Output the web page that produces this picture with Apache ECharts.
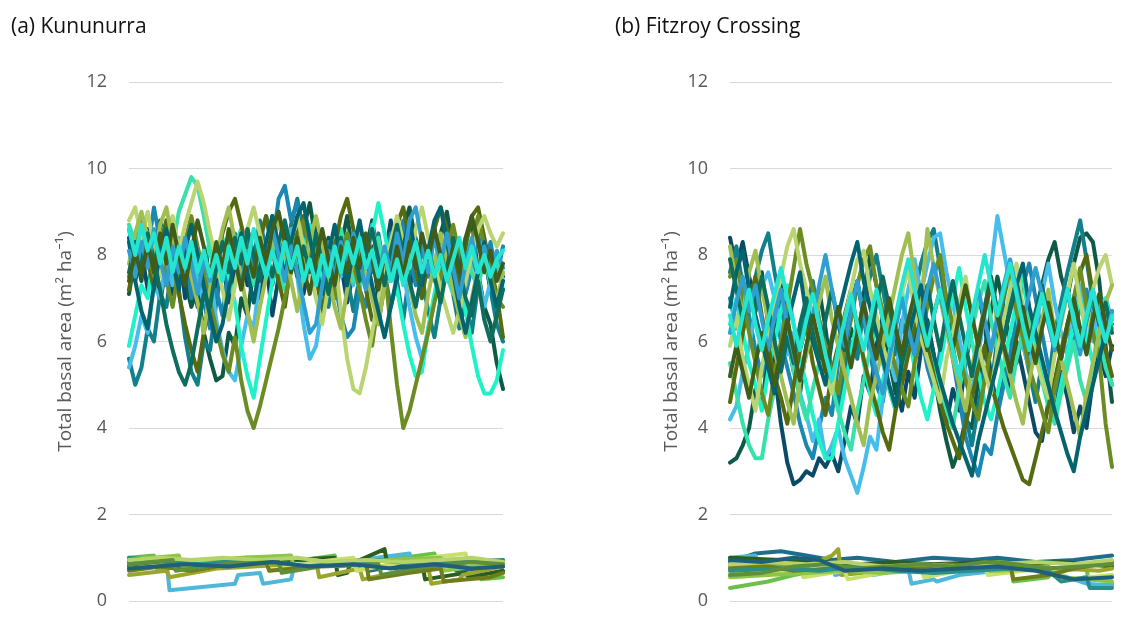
<!DOCTYPE html>
<html>
<head>
<meta charset="utf-8">
<script src="https://cdn.jsdelivr.net/npm/echarts@6/dist/echarts.min.js"></script>
<style>
  html, body { margin: 0; padding: 0; background: #ffffff; }
  #chart { width: 1129px; height: 618px; }
</style>
</head>
<body>
<div id="chart"></div>
<script>
// Total basal area of simulated stands, one line per run (x = time step 0..60)
const panelTitles = ['(a) Kununurra', '(b) Fitzroy Crossing'];
const yTicks = { min: 0, max: 12, interval: 2 };
const yAxisName = 'Total basal area (m\u00B2 ha\u207B\u00B9)';

// Kununurra – trees (upper band)
const kunA1  = [8.4,7.4,8.1,7.2,8.0,6.9,7.8,7.1,8.2,7.0,7.7,6.8,7.5,8.3,7.2,7.9,6.9,7.6,8.4,7.3,8.1,7.0,7.8,6.6,7.5,8.6,7.7,8.4,7.1,7.9,8.7,7.6,8.3,7.0,7.8,6.9,7.6,8.5,7.4,8.2,7.0,7.9,8.8,7.6,8.4,7.2,8.0,7.1,7.9,8.6,7.5,8.3,7.2,8.1,7.3,8.2,7.4,8.0,7.2,7.8,7.5];
const kunA2  = [7.1,8.0,7.4,8.6,7.9,8.8,8.0,7.3,8.2,7.4,6.8,7.2,6.2,5.6,5.1,5.2,6.2,5.9,7.0,6.6,7.7,8.5,7.8,8.9,8.1,7.5,8.4,7.7,8.6,9.2,8.3,7.6,8.4,7.5,8.2,8.9,8.0,7.3,8.1,8.8,7.9,7.2,8.0,7.4,8.6,9.1,8.3,7.5,8.2,7.4,8.5,9.0,8.1,7.3,8.3,8.8,7.6,6.8,6.4,5.5,4.9];
const kunA3  = [5.6,5.0,5.4,6.3,6.0,7.1,6.8,7.9,7.2,6.1,5.3,5.0,6.0,5.8,6.9,7.8,7.2,8.3,7.6,8.6,7.9,8.8,8.1,7.3,8.2,7.6,8.7,9.3,8.5,7.7,8.4,7.4,6.8,7.7,8.4,7.5,6.7,7.5,8.3,7.6,8.5,7.6,6.8,7.4,6.5,7.6,8.4,7.5,6.7,6.1,7.0,7.8,7.1,6.3,6.9,6.2,7.3,8.0,7.2,6.4,6.0];
const kunA4  = [8.6,7.9,8.8,8.1,9.1,8.3,7.6,8.4,7.5,8.2,7.0,7.8,6.9,6.3,7.2,6.6,7.7,8.5,7.8,8.6,7.6,8.3,8.9,8.2,9.3,9.6,8.8,9.2,8.3,7.6,8.4,7.5,8.3,7.4,6.6,6.1,6.3,7.2,6.8,7.9,8.4,7.6,8.5,7.8,8.8,8.0,7.3,8.2,7.5,8.6,7.8,8.4,7.4,8.1,7.1,7.7,8.5,7.6,8.3,7.5,8.2];
const kunA5  = [5.4,5.9,6.6,6.2,7.3,7.0,7.9,7.3,8.4,7.6,8.2,7.4,6.9,7.6,6.5,5.8,5.3,5.1,5.9,6.6,6.3,7.5,8.1,7.4,8.3,7.7,8.6,7.5,6.4,5.6,5.9,6.8,7.6,8.3,7.5,8.1,7.3,8.2,7.5,8.7,7.9,7.2,8.0,8.5,7.6,6.8,6.1,5.6,6.3,7.0,7.8,8.4,7.6,8.3,7.3,8.2,7.5,6.8,7.4,7.9,7.2];
const kunA6  = [5.9,6.6,7.3,7.0,8.1,7.6,8.4,7.8,7.4,8.2,8.7,8.0,7.6,8.4,7.8,8.3,7.5,6.9,5.9,5.2,4.7,5.6,6.5,7.4,8.2,7.7,8.4,7.6,8.1,8.7,8.0,7.4,8.1,7.3,8.0,8.5,7.7,7.2,7.9,8.5,9.2,8.5,7.8,7.2,6.4,5.7,5.2,5.3,6.3,7.1,7.8,8.3,7.8,7.4,6.7,5.9,5.2,4.8,4.8,5.1,5.8];
const kunA7  = [8.7,8.3,7.6,8.5,7.5,8.3,8.8,8.2,9.0,9.4,9.8,9.6,8.9,8.1,7.5,8.4,7.7,8.2,8.6,7.8,7.3,8.1,7.5,8.3,7.7,7.2,8.0,8.5,7.6,8.2,7.4,8.1,7.3,8.0,8.6,7.9,7.4,8.2,7.4,8.0,8.4,7.6,8.3,7.5,8.1,8.5,7.7,7.2,8.0,7.4,8.2,7.5,7.1,7.9,8.4,7.6,7.2,8.0,7.3,7.9,7.4];
const kunA8  = [7.2,8.0,8.7,7.9,7.2,8.2,8.8,7.9,7.1,6.4,5.8,5.3,6.2,6.9,7.8,8.5,9.0,9.3,8.7,8.1,7.5,8.4,8.9,8.1,7.4,6.8,7.8,8.5,8.9,8.2,7.5,6.7,7.5,8.2,8.9,9.3,8.6,7.9,7.2,6.5,6.4,7.3,8.0,8.7,9.1,8.3,7.7,7.0,7.9,8.6,9.1,8.6,7.9,7.3,8.2,8.9,9.1,8.4,7.7,7.1,6.1];
const kunA9  = [7.5,8.2,8.8,8.1,7.5,8.4,7.4,6.8,7.7,8.3,8.9,8.2,7.6,6.9,6.3,5.7,5.3,6.1,5.1,4.4,4.0,4.5,5.1,5.7,6.3,7.0,7.6,8.2,8.8,8.1,7.5,8.4,7.6,7.0,7.9,8.5,7.8,7.2,6.5,5.9,6.9,7.7,6.3,5.0,4.0,4.4,5.0,5.6,6.2,6.9,7.5,8.1,8.7,8.0,7.4,8.3,8.9,8.2,7.6,7.0,6.8];
const kunA10 = [8.8,9.1,8.4,9.0,8.2,7.5,8.3,8.9,8.1,8.7,9.2,9.7,9.2,8.5,7.9,7.2,6.5,7.3,8.0,8.6,9.1,8.5,7.9,8.8,8.1,7.5,8.3,8.9,8.2,7.6,7.0,6.4,7.3,8.0,6.7,5.6,4.9,4.8,5.4,6.2,7.0,7.7,8.3,8.9,8.3,7.7,8.6,9.1,8.4,7.8,7.2,6.7,6.2,6.7,7.4,8.0,8.6,8.9,8.5,8.2,8.5];
const kunA11 = [7.8,8.5,9.0,8.4,7.8,8.7,9.1,8.3,7.6,8.4,7.5,6.9,6.2,7.2,7.9,8.6,9.1,8.3,7.5,6.7,6.0,6.8,7.5,8.2,8.8,8.1,7.4,6.7,7.6,8.3,8.9,8.2,7.5,6.8,6.3,7.2,7.9,8.5,7.6,7.0,6.4,7.3,8.0,8.6,7.9,7.3,6.6,6.2,7.1,7.8,8.5,7.9,7.2,6.6,6.1,7.0,7.7,8.3,7.4,6.9,7.6];
const kunA12 = [8.3,7.4,6.7,6.3,7.3,8.0,8.6,7.9,7.2,8.1,8.7,8.0,7.3,6.6,6.0,6.4,7.2,7.9,8.5,7.6,6.9,7.7,8.3,8.9,8.2,7.5,8.3,8.9,9.2,8.4,7.7,7.1,8.0,8.7,7.9,7.3,8.1,8.8,8.0,7.3,6.7,6.1,6.8,7.5,8.2,8.8,8.0,7.3,8.1,8.8,9.1,8.3,7.6,6.8,6.2,6.9,7.6,8.3,7.4,6.8,7.4];
const kunA13 = [7.6,8.3,7.7,8.5,7.9,7.2,6.4,5.8,5.3,5.0,5.5,6.3,7.1,6.8,7.7,8.3,7.6,8.4,7.8,8.6,8.0,7.4,8.1,7.5,8.3,8.8,8.1,7.5,8.2,7.6,8.5,7.8,7.1,7.9,8.4,7.6,8.2,7.4,8.0,8.6,7.9,7.3,8.1,8.7,8.0,7.4,6.8,7.6,8.2,7.5,6.9,7.7,8.4,7.7,7.0,6.6,7.4,6.5,6.0,6.6,7.2];
const kunA14 = [8.1,7.5,8.3,7.7,8.6,7.9,7.3,8.2,7.6,8.4,7.8,7.1,7.9,7.4,8.2,7.6,8.5,7.9,7.3,8.1,7.5,8.3,7.7,8.6,8.0,7.4,8.2,7.6,6.9,6.2,6.4,7.3,8.1,7.5,8.3,7.7,8.5,7.9,7.2,8.0,7.4,8.2,7.6,8.5,7.8,8.8,9.1,8.3,7.6,8.4,7.8,8.5,7.7,7.0,7.8,8.4,7.6,8.2,7.5,8.1,7.7];
const kunA15 = [7.4,8.1,7.5,8.3,7.6,8.5,7.8,8.7,8.0,7.3,8.1,8.8,8.2,7.5,8.3,7.7,8.6,7.9,7.2,8.0,7.5,8.4,7.8,8.6,9.0,8.3,7.6,8.4,7.7,7.1,7.9,8.6,7.9,7.3,8.2,7.6,8.4,7.7,8.5,7.9,7.2,8.0,7.4,8.2,7.5,8.3,7.7,8.5,7.9,8.6,8.0,7.4,8.2,7.6,8.4,8.9,8.3,7.6,8.1,7.4,7.8];
const kunA16 = [8.6,8.0,8.7,8.1,8.5,7.8,8.4,7.6,8.2,7.7,8.3,7.6,8.1,7.5,8.0,7.4,8.2,7.7,8.4,7.8,8.6,8.0,7.5,8.1,7.6,8.3,7.7,8.2,7.4,7.9,7.3,8.0,7.5,8.2,7.6,8.3,7.8,8.4,7.7,8.1,7.5,8.0,7.4,7.9,7.3,7.8,8.3,7.6,8.1,7.5,8.0,7.4,7.9,8.4,7.7,8.2,7.6,8.0,7.5,7.9,8.1];

// Kununurra – understorey (lower band), [step, value] break points
const kunL1  = [[0,1.0],[4,1.05],[4.5,0.75],[12,0.9],[20,1.0],[28,0.95],[33,1.05],[33.5,0.8],[44,1.0],[49,1.1],[49.5,0.8],[56,0.85],[56.5,0.5],[60,0.55]];
const kunL2  = [[0,0.9],[5,1.0],[5.5,0.75],[15,0.95],[20,0.85],[26,0.95],[34,0.9],[38,0.95],[38.5,0.7],[46,0.9],[52,0.95],[52.5,0.7],[60,0.8]];
const kunL3  = [[0,0.85],[6,0.95],[6.5,0.25],[17,0.4],[17.5,0.6],[21,0.65],[21.5,0.4],[26,0.5],[26.5,0.8],[37,0.95],[45,1.1],[45.5,0.85],[60,0.9]];
const kunL4  = [[0,0.8],[10,0.9],[19,1.0],[26,0.95],[33,1.0],[33.5,0.6],[35,0.65],[35.5,0.85],[41,1.2],[41.5,0.8],[47,0.9],[47.5,0.5],[54,0.65],[54.5,0.55],[60,0.7]];
const kunL5  = [[0,0.6],[6,0.7],[6.5,0.55],[14,0.75],[20,0.8],[26,0.85],[28,0.8],[30,0.95],[30.5,0.55],[37,0.75],[37.5,0.5],[44,0.7],[48,0.8],[48.5,0.4],[53,0.5],[53.5,0.6],[60,0.8]];
const kunL6  = [[0,0.75],[7,0.85],[14,0.95],[22,1.0],[22.5,0.7],[30,0.9],[36,1.0],[36.5,0.7],[42,0.85],[48,1.0],[54,1.1],[54.5,0.8],[60,0.85]];
const kunL7  = [[0,0.95],[8,1.05],[8.5,0.8],[18,1.0],[26,1.05],[26.5,0.75],[34,0.9],[42,0.95],[50,1.0],[50.5,0.7],[58,0.85],[60,0.95]];
const kunL8  = [[0,0.7],[5,0.8],[10,0.7],[16,0.85],[22,0.9],[22.5,0.7],[30,0.8],[38,0.9],[38.5,0.5],[45,0.65],[50,0.75],[50.5,0.45],[58,0.55],[60,0.65]];
const kunL9  = [[0,1.0],[6,0.9],[12,0.85],[18,0.95],[24,0.9],[28,0.8],[34,0.85],[40,0.95],[46,0.85],[52,0.9],[60,0.95]];
const kunL10 = [[0,0.95],[5,1.0],[10,0.95],[15,1.0],[21,0.95],[27,1.0],[32,0.9],[38,0.95],[44,0.9],[50,0.95],[55,1.0],[60,0.9]];
const kunL11 = [[0,0.85],[7,0.95],[7.5,0.7],[15,0.85],[24,0.9],[24.5,0.65],[31,0.8],[40,0.85],[40.5,0.6],[48,0.8],[55,0.9],[60,0.85]];
const kunL12 = [[0,0.75],[9,0.85],[16,0.8],[23,0.9],[29,0.8],[36,0.85],[42,0.75],[49,0.85],[55,0.75],[60,0.8]];

// Fitzroy Crossing – trees (upper band)
const fitA1  = [8.4,7.7,8.3,7.5,6.9,7.6,6.4,5.3,4.1,3.2,2.7,2.8,3.0,2.9,3.3,3.1,3.4,3.0,3.7,4.5,4.1,5.2,4.8,5.9,6.6,6.1,5.0,4.4,5.3,4.7,5.8,6.5,5.7,4.6,4.1,4.9,4.4,5.5,6.3,7.1,6.4,5.2,4.5,5.4,4.9,6.0,5.3,4.6,3.9,3.7,4.6,4.2,5.3,4.7,3.9,4.5,4.0,5.1,5.8,5.2,5.9];
const fitA2  = [3.2,3.3,3.6,4.0,4.9,4.5,5.7,6.4,7.3,6.6,5.4,4.8,5.9,6.6,7.2,6.3,5.2,4.6,5.5,6.3,5.8,7.1,8.0,7.3,6.5,5.6,4.8,5.7,6.4,6.0,7.0,6.1,5.3,4.4,3.7,3.1,3.5,4.2,4.0,5.1,5.8,6.7,7.5,6.8,6.0,5.5,6.2,5.7,6.6,7.3,7.9,8.3,7.5,7.0,7.8,8.4,8.5,8.3,7.4,5.9,4.6];
const fitA3  = [7.6,8.2,7.3,6.7,7.5,8.1,8.5,7.6,6.8,6.1,5.3,6.0,6.8,7.4,6.5,5.9,5.1,4.5,5.3,6.0,5.6,6.8,7.5,8.0,7.2,6.4,5.7,6.5,5.9,7.1,7.8,8.3,8.6,7.7,6.8,5.9,5.0,4.3,3.6,4.5,5.4,4.9,6.1,7.0,7.7,6.8,6.0,5.3,4.6,5.5,5.0,6.2,6.9,7.6,8.2,8.8,7.9,6.9,6.1,5.5,5.0];
const fitA4  = [7.0,6.3,7.2,6.6,5.8,5.2,6.1,6.8,6.0,5.4,4.8,4.1,3.6,3.3,4.0,4.7,4.3,5.5,6.2,6.9,7.4,6.5,5.7,5.0,4.6,5.6,6.4,7.2,7.7,7.0,6.2,5.4,4.9,5.8,6.5,5.6,4.7,3.8,3.3,2.9,3.6,3.4,4.3,5.0,5.7,6.5,7.3,7.8,7.0,6.2,5.4,4.8,5.6,6.3,5.9,6.9,7.2,6.4,5.8,6.7,6.4];
const fitA5  = [4.2,4.5,5.3,5.9,6.7,7.3,7.6,7.0,6.3,5.7,6.2,4.8,4.3,3.7,4.2,3.3,3.6,4.0,3.3,2.9,2.5,3.1,3.8,3.5,4.7,5.6,5.1,6.4,7.2,7.9,7.1,7.8,8.4,8.5,7.6,6.9,6.1,5.3,4.8,5.7,6.6,7.7,8.9,8.1,7.3,6.6,5.9,5.4,6.3,7.1,7.8,6.9,6.2,5.7,6.6,7.3,6.5,6.0,6.8,7.0,6.5];
const fitA6  = [6.4,7.0,6.2,5.5,5.0,4.4,5.3,6.0,6.7,7.3,6.4,5.6,5.0,4.3,3.7,3.3,3.3,4.1,4.9,5.7,6.5,5.5,4.8,4.3,5.1,5.7,6.5,7.2,6.2,5.4,4.7,4.2,4.9,5.5,6.3,7.0,7.7,6.8,6.0,5.3,4.6,4.2,4.8,5.5,6.2,6.9,7.5,6.5,5.9,5.2,4.6,4.3,5.0,5.7,6.4,7.0,6.1,5.5,6.4,7.0,6.3];
const fitA7  = [5.5,4.8,4.1,3.6,3.3,3.3,4.2,4.9,5.6,6.2,5.3,4.7,4.2,4.9,5.5,5.9,5.0,4.4,3.9,3.5,4.4,5.1,5.8,6.4,5.5,4.9,4.4,5.3,6.0,6.7,7.2,6.3,5.6,5.0,4.4,4.0,4.9,5.6,6.3,6.9,7.4,6.5,5.8,5.2,4.7,5.6,6.2,6.7,5.7,5.1,4.5,4.1,4.8,5.4,6.0,5.1,4.6,5.5,6.1,5.4,5.0];
const fitA8  = [4.6,5.4,6.2,6.9,7.5,6.6,5.9,5.2,4.7,4.1,5.0,5.8,6.4,5.5,4.9,4.3,5.3,5.9,6.6,7.2,6.3,5.6,5.0,4.5,3.9,3.5,4.4,5.0,5.7,6.3,6.8,5.9,5.2,4.6,4.1,3.7,3.3,4.1,4.7,5.4,5.9,5.0,4.5,4.0,3.6,3.2,2.8,2.7,3.3,3.9,4.5,5.1,5.8,6.4,7.0,7.6,8.0,7.1,6.4,5.8,5.2];
const fitA9  = [7.5,7.9,7.0,6.2,5.5,4.8,4.3,5.3,6.0,6.8,7.7,8.6,7.8,7.2,6.5,5.9,5.3,4.8,5.8,6.5,7.3,7.9,8.2,7.3,6.7,6.0,5.4,4.9,4.5,5.5,6.1,6.8,7.5,8.0,7.0,6.4,5.7,5.1,4.6,4.2,5.1,5.8,6.5,7.1,7.7,6.7,6.1,5.4,4.9,4.4,3.9,4.9,5.6,6.3,7.0,7.7,6.8,6.2,5.6,4.1,3.1];
const fitA10 = [5.9,6.6,5.6,5.0,4.4,5.4,6.1,6.8,7.5,8.2,8.6,7.8,7.2,6.6,5.9,5.3,4.8,5.8,6.5,7.2,7.9,8.1,7.2,6.6,5.9,5.4,6.4,7.1,7.7,6.7,6.1,5.6,5.1,4.6,5.6,6.2,6.9,7.5,6.5,5.9,5.3,4.8,5.8,6.5,7.2,7.8,6.8,6.2,5.6,5.1,4.7,5.7,6.4,7.1,7.8,6.9,6.3,7.2,7.7,8.0,7.3];
const fitA11 = [8.2,7.3,6.6,7.6,8.1,7.2,6.5,5.8,5.2,4.6,4.1,5.1,5.7,6.3,6.9,7.5,6.5,5.9,5.3,4.7,4.1,3.6,4.6,5.2,5.9,6.6,7.3,8.0,8.5,7.5,6.8,8.6,7.7,7.0,6.3,5.6,5.0,4.4,5.4,6.1,6.8,7.4,6.4,5.8,5.2,4.6,4.1,5.1,5.8,6.5,7.2,6.2,5.6,5.0,4.4,3.8,4.8,5.5,6.2,6.9,7.3];
const fitA12 = [6.8,7.6,8.1,7.2,6.6,6.0,5.4,4.8,5.8,6.4,7.0,7.6,6.6,6.0,5.5,5.0,6.0,6.6,7.2,7.8,8.3,7.4,6.8,6.2,5.6,5.0,4.5,5.5,6.1,6.7,7.3,6.3,5.7,5.1,4.6,4.1,3.7,3.3,2.9,3.7,4.3,4.9,5.5,6.1,6.7,7.3,7.8,6.8,6.2,5.6,5.0,4.4,3.9,3.4,3.0,3.8,4.4,5.0,5.6,6.2,6.7];
const fitA13 = [7.9,7.2,6.5,7.3,6.7,7.5,6.8,6.0,5.3,6.1,5.5,6.4,7.0,6.2,5.6,6.5,7.2,6.4,5.8,6.7,7.4,6.6,6.0,6.9,7.5,6.8,6.1,5.5,6.3,5.7,6.6,7.3,6.5,5.8,6.7,7.4,6.6,5.9,5.2,6.0,6.8,7.5,6.7,6.0,6.8,7.4,6.6,5.9,6.7,7.3,6.5,5.8,6.6,7.2,6.4,5.8,6.5,7.1,6.4,6.9,6.2];
const fitA14 = [6.2,6.9,7.5,6.7,7.3,6.5,5.8,6.6,7.2,6.4,5.7,5.1,5.9,6.6,7.3,8.0,7.2,6.5,5.9,6.7,7.4,6.6,5.9,5.3,4.8,5.6,6.3,7.0,6.3,5.7,6.5,7.2,7.8,7.1,6.4,5.8,5.2,5.9,6.6,7.2,6.5,5.8,6.6,7.3,7.9,7.2,6.5,7.1,7.7,7.1,6.4,5.8,6.5,7.2,6.4,5.7,6.5,7.2,6.6,6.0,6.7];
const fitA15 = [5.2,5.9,5.3,4.7,5.5,6.2,5.6,5.0,5.8,6.5,5.8,5.1,5.9,6.6,6.0,5.3,6.1,6.8,6.1,5.4,6.2,6.9,6.2,5.6,6.4,7.0,6.3,5.7,6.5,7.1,6.4,5.8,6.6,7.2,6.5,5.8,6.6,7.3,6.6,5.9,6.7,7.3,6.6,5.9,5.3,6.1,6.8,6.1,5.5,6.3,6.9,6.2,5.6,6.4,7.0,6.3,5.7,6.5,7.1,6.4,5.8];
const fitA16 = [6.6,5.9,6.6,7.2,6.4,5.8,6.5,7.1,7.7,7.0,6.4,5.8,6.5,7.1,6.4,5.7,5.1,5.8,6.5,7.1,6.4,5.8,6.5,7.2,6.5,5.9,6.6,7.3,7.9,7.2,6.5,5.9,6.6,7.2,6.5,5.8,5.2,5.9,6.6,7.3,8.0,7.3,6.6,7.2,7.8,7.1,6.4,5.8,6.5,7.1,6.5,5.9,6.6,7.2,6.5,5.9,6.6,7.2,6.5,6.0,6.6];

// Fitzroy Crossing – understorey (lower band), [step, value] break points
const fitL1  = [[0,0.3],[6,0.45],[10,0.6],[16,0.75],[22,0.8],[28,0.85],[34,0.8],[40,0.9],[44,0.95],[44.5,0.45],[50,0.55],[50.5,0.7],[56,0.75],[56.5,0.35],[60,0.4]];
const fitL2  = [[0,0.9],[4,1.1],[8,1.15],[12,1.05],[16,0.95],[20,1.0],[26,0.9],[32,1.0],[38,0.95],[42,1.0],[48,0.9],[54,0.95],[60,1.05]];
const fitL3  = [[0,1.0],[4,1.05],[4.5,0.85],[9,0.95],[9.5,0.75],[14,0.85],[16,0.85],[16.5,0.6],[22,0.75],[22.5,0.6],[28,0.75],[28.5,0.4],[32,0.5],[32.5,0.45],[36,0.6],[42,0.7],[46,0.75],[50,0.8],[52,0.6],[56,0.4],[60,0.35]];
const fitL4  = [[0,1.0],[8,0.95],[14,0.9],[20,0.85],[26,0.9],[32,0.85],[40,0.9],[46,0.85],[52,0.9],[60,0.8]];
const fitL5  = [[0,0.8],[6,0.85],[12,0.8],[16,1.05],[17,1.2],[17.5,0.6],[24,0.7],[28,0.8],[34,0.75],[40,0.85],[46,0.8],[52,0.75],[58,0.7],[60,0.75]];
const fitL6  = [[0,0.65],[5,0.75],[5.5,0.6],[11,0.8],[11.5,0.55],[18,0.7],[18.5,0.5],[24,0.65],[30,0.75],[30.5,0.55],[36,0.7],[40,0.8],[40.5,0.6],[46,0.7],[52,0.75],[52.5,0.5],[60,0.6]];
const fitL7  = [[0,0.55],[6,0.6],[12,0.65],[18,0.7],[24,0.65],[30,0.7],[36,0.75],[42,0.7],[48,0.75],[52,0.55],[56,0.5],[60,0.45]];
const fitL8  = [[0,0.75],[6,0.8],[10,0.7],[16,0.75],[22,0.8],[28,0.75],[34,0.85],[40,0.8],[44,0.85],[44.5,0.5],[50,0.6],[54,0.75],[60,0.9]];
const fitL9  = [[0,0.7],[8,0.75],[14,0.7],[20,0.8],[26,0.7],[32,0.65],[38,0.7],[44,0.75],[50,0.7],[52,0.45],[56,0.55],[56.5,0.3],[60,0.3]];
const fitL10 = [[0,0.85],[6,0.9],[12,0.85],[18,0.9],[24,0.8],[30,0.85],[36,0.8],[42,0.85],[48,0.9],[54,0.85],[60,0.95]];
const fitL11 = [[0,0.6],[5,0.65],[10,0.8],[15,0.85],[20,0.75],[25,0.8],[30,0.85],[35,0.8],[40,0.9],[45,0.85],[50,0.75],[55,0.8],[60,0.85]];
const fitL12 = [[0,0.95],[5,0.9],[10,1.0],[14,0.95],[18,0.7],[24,0.75],[30,0.7],[36,0.75],[42,0.8],[48,0.7],[54,0.5],[60,0.55]];

// Line colours
const upperColors = ['#0b4a66','#0e5a46','#12808a','#1b87b3','#46bdea','#1ef2c8',
                     '#38e0aa','#566a10','#6b8c22','#b9d470','#a0be52','#036470',
                     '#0d6e5e','#2f9fcf','#3f5c1a','#24e6d0'];
const lowerColors = ['#6cc04a','#1d6e8c','#4fb7d9','#2c5e1f','#9aa62a','#c8df6e',
                     '#8dc548','#6f7d1c','#2a8f8a','#b5d36a','#5f8f3a','#1f5f78'];

const panels = [
  { upper: [kunA1,kunA2,kunA3,kunA4,kunA5,kunA6,kunA7,kunA8,kunA9,kunA10,kunA11,kunA12,kunA13,kunA14,kunA15,kunA16],
    lower: [kunL1,kunL2,kunL3,kunL4,kunL5,kunL6,kunL7,kunL8,kunL9,kunL10,kunL11,kunL12] },
  { upper: [fitA1,fitA2,fitA3,fitA4,fitA5,fitA6,fitA7,fitA8,fitA9,fitA10,fitA11,fitA12,fitA13,fitA14,fitA15,fitA16],
    lower: [fitL1,fitL2,fitL3,fitL4,fitL5,fitL6,fitL7,fitL8,fitL9,fitL10,fitL11,fitL12] }
];

const FONT = '"Open Sans", "Noto Sans", sans-serif';
const grids = [
  { left: 129, top: 82, width: 374, height: 519 },
  { left: 730, top: 82, width: 382, height: 519 }
];

const xAxes = grids.map((g, k) => ({
  type: 'value', gridIndex: k, min: 0, max: 60, show: false,
  splitLine: { show: false }
}));
const yAxes = grids.map((g, k) => ({
  type: 'value', gridIndex: k,
  min: yTicks.min, max: yTicks.max, interval: yTicks.interval,
  axisLine: { show: false }, axisTick: { show: false },
  axisLabel: { color: '#595959', fontSize: 18, fontFamily: FONT, margin: 22 },
  splitLine: { lineStyle: { color: '#d9d9d9', width: 1 } },
  name: yAxisName, nameLocation: 'middle', nameGap: k === 0 ? 54 : 49,
  nameTextStyle: { color: '#595959', fontSize: 19, fontFamily: FONT }
}));

// Understorey lines first, then the tree lines on top
const series = [];
panels.forEach((p, k) => {
  p.lower.forEach((pts, j) => series.push({
    type: 'line', xAxisIndex: k, yAxisIndex: k, data: pts,
    showSymbol: false, silent: true, animation: false,
    lineStyle: { color: lowerColors[j % lowerColors.length], width: 4, join: 'round', cap: 'round' }
  }));
  p.upper.forEach((vals, j) => series.push({
    type: 'line', xAxisIndex: k, yAxisIndex: k,
    data: vals.map((v, i) => [i, v]),
    showSymbol: false, silent: true, animation: false,
    lineStyle: { color: upperColors[j % upperColors.length], width: 4, join: 'round', cap: 'round' }
  }));
});

const chart = echarts.init(document.getElementById('chart'), null, { renderer: 'canvas' });
chart.setOption({
  backgroundColor: '#ffffff',
  animation: false,
  title: [
    { text: panelTitles[0], left: 6, top: 12,
      textStyle: { color: '#111', fontSize: 21, fontWeight: 'normal', fontFamily: FONT } },
    { text: panelTitles[1], left: 610, top: 12,
      textStyle: { color: '#111', fontSize: 21, fontWeight: 'normal', fontFamily: FONT } }
  ],
  grid: grids,
  xAxis: xAxes,
  yAxis: yAxes,
  series: series
});
</script>
</body>
</html>
